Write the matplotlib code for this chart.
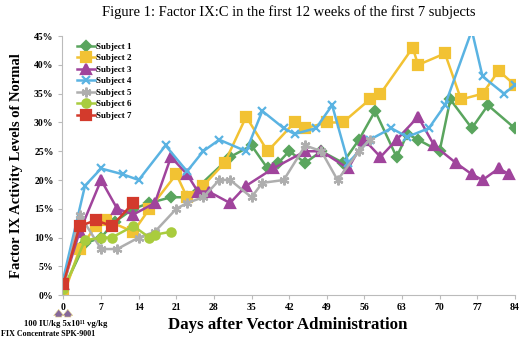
import numpy as np
import matplotlib.pyplot as plt
from matplotlib.ticker import FuncFormatter

plt.rcParams['font.family'] = ['Liberation Serif', 'DejaVu Serif']

# values (day, % of normal)
s1_days = [0, 4, 7, 9.5, 13, 16, 20, 23, 31, 35, 38, 40, 42, 45, 48, 52, 55, 58, 62, 64, 66, 70, 72, 76, 79, 84]
s1_vals = [1, 9, 10, 12.7, 15, 16, 17, 17, 24, 26, 22, 23, 25, 23, 25, 23, 27, 32, 24, 28, 27, 25, 34, 29, 33, 29]
s2_days = [0, 3, 6, 8, 13, 16, 21, 23, 26, 30, 34, 38, 43, 45, 49, 52, 57, 59, 65, 66, 71, 74, 78, 81, 84]
s2_vals = [0, 8, 12, 13, 11, 15, 21, 17, 19, 23, 31, 25, 30, 29, 30, 30, 34, 35, 43, 40, 42, 34, 35, 39, 36.5]
s3_days = [0, 3, 7, 10, 13, 17, 20, 23, 25, 27, 31, 34, 39, 45, 48, 53, 56, 59, 62, 66, 69, 73, 76, 78, 81, 83]
s3_vals = [2, 11, 20, 15, 14, 16, 24, 21, 18, 18, 16, 19, 22, 25, 25, 22, 27, 24, 27, 31, 26, 23, 21, 20, 22, 21]
s4_days = [0, 4, 7, 11, 14, 19, 23, 26, 29, 34, 37, 41, 43, 47, 50, 53, 57, 61, 64, 68, 71, 76, 78, 82, 84]
s4_vals = [3, 19, 22, 21, 20, 26, 21.5, 25, 27, 25, 32, 29, 28, 29, 33, 23, 27, 29, 27.5, 29, 33, 46, 38, 35, 36.5]
s5_days = [0, 3, 7, 10, 14, 17, 21, 23, 26, 29, 31, 35, 37, 41, 45, 48, 51, 55, 57]
s5_vals = [1, 14, 8, 8, 10, 11, 15, 16, 17, 20, 20, 17, 19.5, 20, 26, 25, 20, 25, 27]
s6_days = [0, 4, 7, 9, 13, 16, 17, 20]
s6_vals = [1, 9.5, 10, 10, 12, 10, 10.5, 11]
s7_days = [0, 3, 6, 9, 13]
s7_vals = [2, 12, 13, 12, 16]

labels = ['Subject 1', 'Subject 2', 'Subject 3', 'Subject 4', 'Subject 5', 'Subject 6', 'Subject 7']
colors = ['#5aa55e', '#f2c233', '#a0449c', '#5ab3e2', '#aeaeae', '#a9cc3e', '#d33a2c']
markers = ['D', 's', '^', 'x', (6, 2, 0), 'o', 's']
sizes = [5, 7, 7, 6, 7, 6, 7]
series = [(s1_days, s1_vals), (s2_days, s2_vals), (s3_days, s3_vals), (s4_days, s4_vals),
          (s5_days, s5_vals), (s6_days, s6_vals), (s7_days, s7_vals)]

fig = plt.figure(figsize=(5.2, 3.38), dpi=100)
ax = fig.add_axes([0.119, 0.127, 0.871, 0.766])

for (d, v), lab, c, m, ms in zip(series, labels, colors, markers, sizes):
    ax.plot(d, v, color=c, marker=m, markersize=ms, linewidth=1.8,
            markeredgewidth=1.6, label=lab)

ax.set_xlim(-0.3, 84)
ax.set_ylim(0, 45)
ax.set_xticks(np.arange(0, 85, 7))
ax.set_yticks(np.arange(0, 46, 5))
ax.yaxis.set_major_formatter(FuncFormatter(lambda y, p: f'{int(y)}%'))
for lab in ax.get_xticklabels() + ax.get_yticklabels():
    lab.set_fontweight('bold')
ax.tick_params(labelsize=7, length=3, color='#bbbbbb', pad=3)
for side in ['top', 'right']:
    ax.spines[side].set_visible(False)
for side in ['left', 'bottom']:
    ax.spines[side].set_color('#bbbbbb')

ax.set_ylabel('Factor IX Activity Levels of Normal', fontsize=10.5, fontweight='bold', labelpad=8)
fig.text(0.554, 0.038, 'Days after Vector Administration', fontsize=12.2, fontweight='bold',
         ha='center', va='center')
fig.suptitle('Figure 1: Factor IX:C in the first 12 weeks of the first 7 subjects', fontsize=10.5,
             x=0.556, y=0.985)

leg = ax.legend(loc='upper left', bbox_to_anchor=(0.02, 1.0), frameon=False,
                handlelength=2.0, handletextpad=0.1, labelspacing=0.35, borderaxespad=0.3,
                prop={'weight': 'bold', 'size': 6.5})

# dosing arrows and note below the axis
for xo in [-0.9, 0.8]:
    ax.annotate('', xy=(xo, -2.0), xytext=(xo, -4.3), xycoords='data', annotation_clip=False,
                arrowprops=dict(arrowstyle='simple,head_width=0.8,head_length=0.5,tail_width=0.5',
                                color='#86689a', ec='#e8d88a', lw=0.4, mutation_scale=9))
fig.text(0.127, 0.041, '100 IU/kg 5x10\u00b9\u00b9 vg/kg', fontsize=6.2, fontweight='bold',
         ha='center', va='center')
fig.text(0.002, 0.012, 'FIX Concentrate SPK-9001', fontsize=5.8, fontweight='bold',
         ha='left', va='center')

fig.savefig('out.png', dpi=100)
